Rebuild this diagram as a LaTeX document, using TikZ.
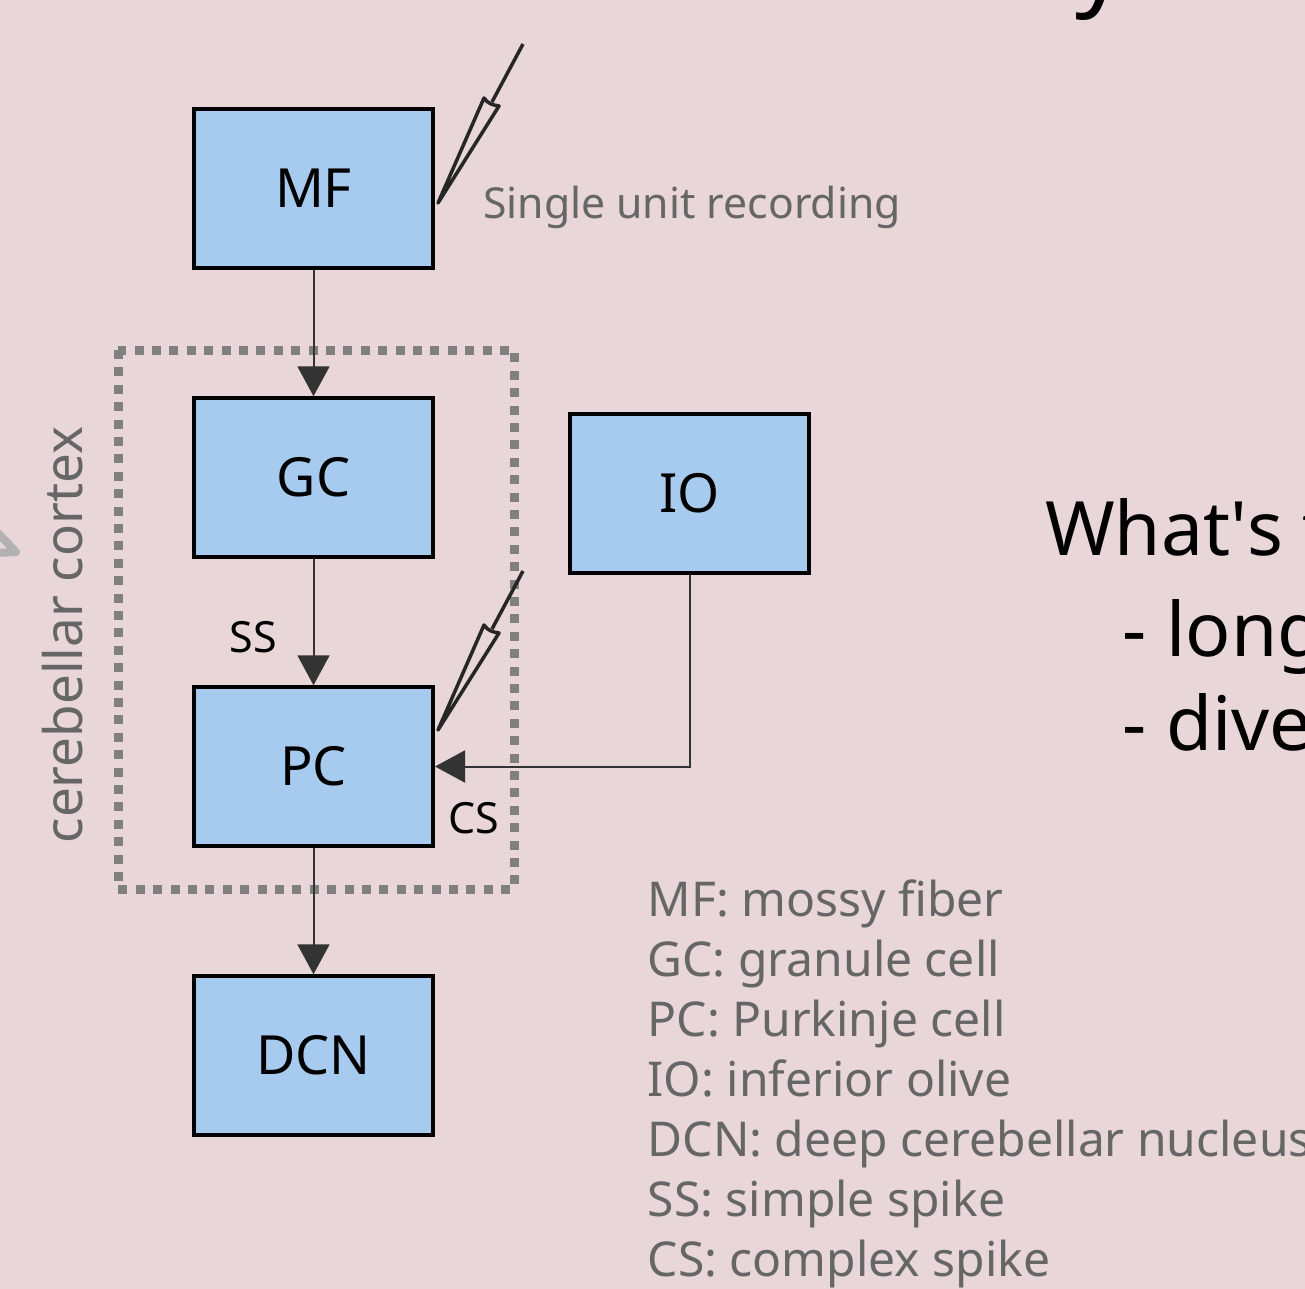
\documentclass[tikz,border=0pt]{standalone}
\usepackage{fontspec}
\setmainfont{Noto Sans}
\usepackage{xcolor}
\usetikzlibrary{positioning,arrows.meta,calc}
\definecolor{ink}{HTML}{333333}
\definecolor{grey}{HTML}{666666}
\definecolor{bluebg}{HTML}{A7CBEE}
\definecolor{pagebg}{HTML}{E8D6D8}
\definecolor{dots}{HTML}{808080}
\tikzset{
  nd/.style={draw=black, fill=bluebg, line width=4pt, inner sep=0pt,
             font=\fontsize{54}{60}\selectfont, minimum height=158.5pt, minimum width=239pt},
  ar/.style={-{Triangle[length=30pt,width=32pt]}, line width=2pt, color=ink},
  pb/.style={line width=3.5pt, color=black!85, line join=round},
  sm/.style={font=\fontsize{43}{50}\selectfont, inner sep=0pt},
  gt/.style={font=\fontsize{48}{60}\selectfont, color=grey, inner sep=0pt},
  bg/.style={font=\fontsize{75}{97}\selectfont, color=black, inner sep=0pt},
}
\begin{document}
\begin{tikzpicture}[x=1pt,y=-1pt,node distance=126.5pt]
\useasboundingbox (0,0) rectangle (1305,1288);
\fill[pagebg] (-5,-5) rectangle (1310,1293);
% cut off at the edges
\node[font=\fontsize{100}{100}\selectfont, anchor=base, inner sep=0pt] (ytail) at (1101,-4) {y};
\draw[line width=8pt, color=black!30, line cap=round, line join=round] (-5,530) -- (16,552) -- (-5,553);
% column
\node[nd] (mf) at (313.5,188.5) {MF};
\node[nd] (gc) [below=of mf] {GC};
\node[nd] (pc) [below=of gc] {PC};
\node[nd] (dcn) [below=of pc] {DCN};
\node[nd] (io) [right=133pt of gc, yshift=-16pt] {IO};
% cortex
\draw[dots, line width=9pt, dash pattern=on 9pt off 8.4pt] (118,350) rectangle (514,889);
\node[gt, rotate=90, font=\fontsize{53}{60}\selectfont] (ctx) at (63,635) {cerebellar cortex};
\draw[ar] (mf) -- (gc);
\draw[ar] (gc) -- (pc);
\draw[ar] (pc) -- (dcn);
\draw[ar] (io.south) |- (pc.east);
\node[sm] (ss) at (253,637) {SS};
\node[sm] (cs) at (474,818) {CS};
% electrodes
\foreach \dy in {0,527} {
  \draw[pb] (438,203+\dy) -- (484,98+\dy) .. controls (488,104+\dy) and (493,105+\dy) .. (499,106+\dy) -- cycle;
  \draw[pb] (492,102+\dy) -- (523,44+\dy);
}
\node[gt, anchor=base west, font=\fontsize{42.7}{50}\selectfont] (rec) at (483,218) {Single unit recording};
% legend
\node[gt, anchor=north west, align=left] (lgd) at (647.5,880) {MF: mossy fiber\\GC: granule cell\\PC: Purkinje cell\\IO: inferior olive\\DCN: deep cerebellar nucleus\\SS: simple spike\\CS: complex spike};
% right side
\node[bg, anchor=base west] (q) at (1045,555) {What\textquotesingle s t};
\node[bg, anchor=base west] (l1) at (1122.5,656) {- long};
\node[bg, anchor=base west] (l2) at (1122.5,750) {- dive};
\end{tikzpicture}
\end{document}
